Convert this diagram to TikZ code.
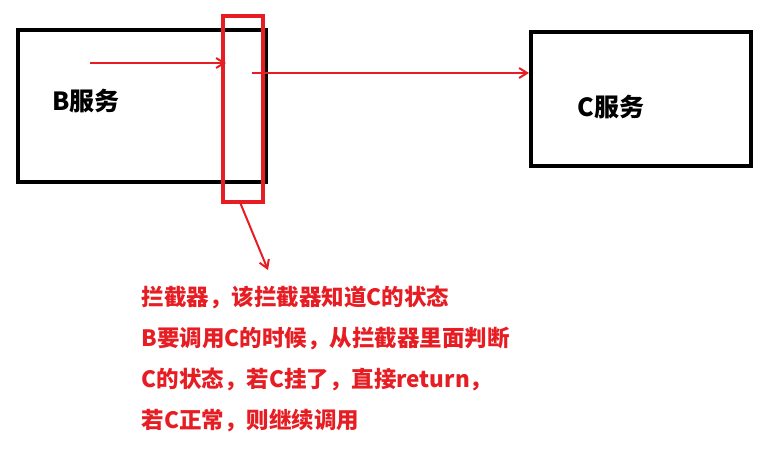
\documentclass[tikz,border=0pt]{standalone}
\usepackage{fontspec}
\setmainfont{Noto Sans CJK SC}
\usetikzlibrary{positioning, arrows.meta}
\definecolor{markred}{RGB}{230,30,36}
\tikzset{
  service/.style={draw, line width=4pt, inner sep=0pt},
  redline/.style={draw=markred, line width=2pt},
  note/.style={text=markred, font=\bfseries\fontsize{22.5}{41}\selectfont, align=left, anchor=north west}
}
\begin{document}
\begin{tikzpicture}[x=1pt, y=-1pt]
  \useasboundingbox (0,0) rectangle (770,453);
  \node [service, minimum width=248pt, minimum height=152pt] (svcB) at (142,105.5) {};
  \node [service, minimum width=220pt, minimum height=134pt] (svcC) at (641,99) {};
  \node [font=\bfseries\fontsize{25}{26}\selectfont, anchor=west] (labelB) at (49,101) {B服务};
  \node [font=\bfseries\fontsize{25}{26}\selectfont, anchor=west] (labelC) at (574,107) {C服务};
  \node [draw=markred, line width=4pt, minimum width=40pt, minimum height=186pt, inner sep=0pt] (guard) at (242.5,108.5) {};
  % calls through the interceptor
  \coordinate (inStart) at (90,63);
  \coordinate (inEnd) at (226,63);
  \coordinate (outStart) at (252,73);
  \draw [redline, -{Straight Barb[length=8pt, width=10pt]}] (inStart) -- (inEnd);
  \draw [redline, -{Straight Barb[length=8pt, width=10pt]}] (outStart) -- (svcC.west |- outStart);
  \node [note] (remark) at (138,282) {拦截器，该拦截器知道C的状态\\B要调用C的时候，从拦截器里面判断\\C的状态，若C挂了，直接return，\\若C正常，则继续调用};
  \coordinate (tip) at (268,270);
  \draw [redline, -{Straight Barb[length=8pt, width=10pt]}] (guard.south) ++(-2,0) -- (tip);
\end{tikzpicture}
\end{document}
